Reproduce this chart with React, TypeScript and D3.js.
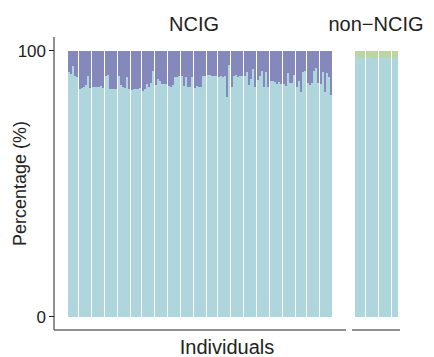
import React from "react";
import * as d3 from "d3";

// Percentage of the light-blue component per individual, grouped
const ncigGroups: number[][] = [
  [91.9, 91.2, 94.2, 90.4, 90.2],
  [85.6, 85.9, 86.4, 86.9, 90.4, 85.9],
  [86.4, 86.4, 86.4, 86.4, 86.6, 85.9],
  [90.4, 90.7, 85.4, 85.4, 85.4, 85.6],
  [90.4, 86.9, 86.4, 85.9, 90.2, 85.4],
  [85.0, 85.4, 85.6, 85.6, 85.9],
  [84.9, 85.6, 87.4, 86.4, 87.7, 92.4],
  [87.1, 89.4, 88.6, 87.4, 87.4, 87.4],
  [86.6, 86.4, 87.1, 90.2, 90.2, 90.4],
  [90.4, 86.6, 90.2, 86.4, 86.4, 90.2],
  [85.9, 86.6, 86.1, 86.1, 90.4, 90.4],
  [90.9, 90.7, 90.4, 90.4, 90.4],
  [90.2, 90.4, 90.2, 90.4, 82.6, 94.4],
  [86.4, 90.4, 90.9, 89.9, 90.4, 90.4],
  [90.4, 91.9, 86.9, 89.4, 92.9, 86.2],
  [89.0, 90.4, 92.4, 86.2, 91.9, 86.4],
  [88.4, 88.4, 88.2, 87.4, 88.2, 87.4],
  [87.4, 86.6, 91.7, 87.7, 87.7, 90.7],
  [86.4, 88.4, 84.4, 91.9, 92.4],
  [87.7, 87.1, 87.9, 92.4, 93.4, 87.9],
  [87.4, 91.9, 84.4, 91.7, 90.2, 83.1],
];

const nonNcigGroups: number[][] = [
  [98.0, 97.5, 97.2, 97.2, 97.3],
  [97.7, 97.6, 97.4, 97.2, 96.9, 97.4],
  [97.7, 97.4, 97.4, 97.3, 97.4, 97.2],
  [96.8, 97.4, 97.4],
];

const panelTitles = ["NCIG", "non\u2212NCIG"];
const yTicks = [0, 100];
const xTitle = "Individuals";
const yTitle = "Percentage (%)";

const BLUE = "#afd6dd";
const PURPLE = "#8488ba";
const GREEN = "#bcd69f";
const TEXT = "#222";
const FONT = "'Liberation Sans', Arial, Helvetica, sans-serif";

type Item = { x: number; w: number; blue: number };

function layout(groups: number[][], x0: number, x1: number): Item[] {
  const gapUnits = 0.5;
  const n = d3.sum(groups, (g) => g.length);
  const total = n + gapUnits * (groups.length - 1);
  const xs = d3.scaleLinear().domain([0, total]).range([x0, x1]);
  const items: Item[] = [];
  let u = 0;
  groups.forEach((g, gi) => {
    g.forEach((v) => {
      items.push({ x: xs(u), w: xs(u + 1) - xs(u), blue: v });
      u += 1;
    });
    if (gi < groups.length - 1) u += gapUnits;
  });
  return items;
}

export default function App() {
  const W = 434;
  const H = 357;
  const y = d3.scaleLinear().domain([0, 100]).range([316.5, 50.5]);
  const panelTop = 37;
  const panelBottom = 330;

  const left = layout(ncigGroups, 68, 332);
  const right = layout(nonNcigGroups, 355, 398);

  const bars = (items: Item[], topColor: string, key: string) =>
    items.map((d, i) => (
      <g key={key + i}>
        <rect x={d.x} y={y(d.blue)} width={d.w} height={y(0) - y(d.blue)} fill={BLUE} />
        <rect x={d.x} y={y(100)} width={d.w} height={y(d.blue) - y(100)} fill={topColor} />
      </g>
    ));

  return (
    <svg
      width={W}
      height={H}
      style={{ position: "absolute", left: 0, top: 0, background: "#fff" }}
      fontFamily={FONT}
    >
      <g shapeRendering="crispEdges">
        {bars(left, PURPLE, "l")}
        {bars(right, GREEN, "r")}
      </g>
      {/* y axis */}
      <line x1={54} x2={54} y1={panelTop} y2={panelBottom} stroke="#222" strokeWidth={1} />
      {yTicks.map((t) => (
        <g key={t}>
          <line x1={49} x2={54} y1={y(t)} y2={y(t)} stroke="#222" strokeWidth={1} />
          <text x={46} y={y(t)} dy="0.36em" textAnchor="end" fontSize={17} fill={TEXT}>
            {t}
          </text>
        </g>
      ))}
      {/* x axes */}
      <line x1={54} x2={346} y1={panelBottom} y2={panelBottom} stroke="#222" strokeWidth={1} />
      <line x1={352} x2={400} y1={panelBottom} y2={panelBottom} stroke="#222" strokeWidth={1} />
      {/* strip titles */}
      <text x={194} y={31} textAnchor="middle" fontSize={20} fill={TEXT}>
        {panelTitles[0]}
      </text>
      <text x={376} y={31} textAnchor="middle" fontSize={20} fill={TEXT}>
        {panelTitles[1]}
      </text>
      {/* axis titles */}
      <text x={227} y={354} textAnchor="middle" fontSize={20} fill={TEXT}>
        {xTitle}
      </text>
      <text
        transform={`translate(26,${(panelTop + panelBottom) / 2}) rotate(-90)`}
        textAnchor="middle"
        fontSize={18}
        fill={TEXT}
      >
        {yTitle}
      </text>
    </svg>
  );
}
